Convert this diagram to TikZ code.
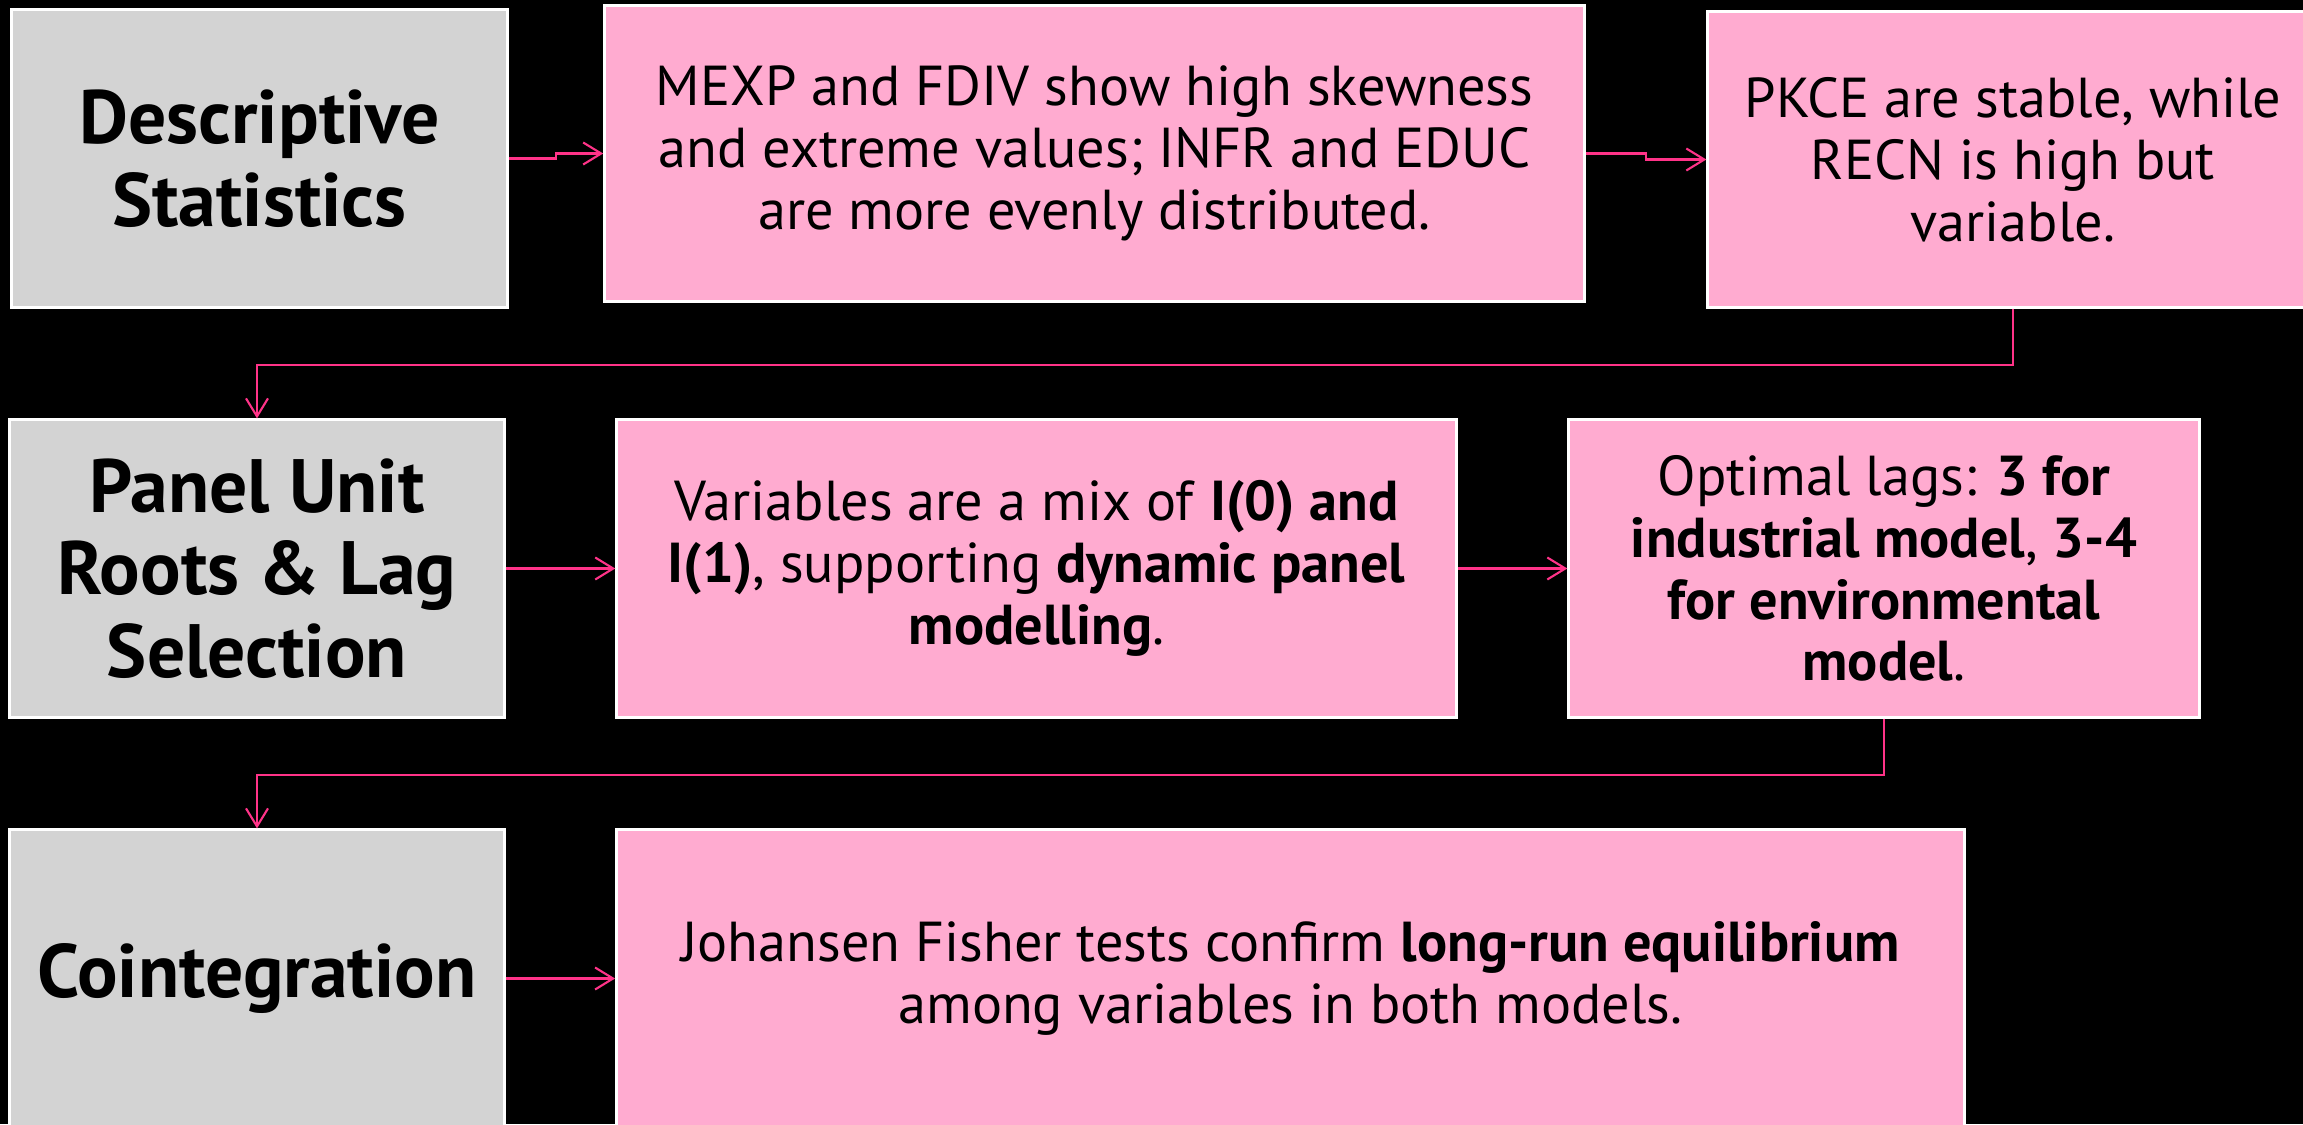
\documentclass[tikz,border=0pt]{standalone}
\usepackage{fontspec}
\setmainfont{PT Sans}
\usetikzlibrary{arrows.meta,calc}
\definecolor{headgray}{HTML}{D3D3D3}
\definecolor{notepink}{HTML}{FFABD0}
\definecolor{linkpink}{HTML}{FF3388}
\tikzset{
  headbox/.style={draw=white, line width=0.85pt, fill=headgray, align=center,
    inner sep=0pt, font=\bfseries\fontsize{21.5}{23.5}\selectfont},
  notebox/.style={draw=white, line width=0.85pt, fill=notepink, align=center,
    inner sep=0pt, font=\fontsize{16}{17.6}\selectfont},
  link/.style={draw=linkpink, line width=0.6pt,
    -{Straight Barb[length=1.8mm,width=2.2mm]}}
}
\begin{document}
\begin{tikzpicture}[x=0.01cm, y=-0.01cm]
            \fill[black] (0,0) rectangle (2303,1124);
            \useasboundingbox (0,0) rectangle (2303,1124);
            % row 1
            \node[headbox, minimum width=4.95cm, minimum height=2.97cm] (desc) at (259.5,158.5) {Descriptive\\Statistics};
            \node[notebox, minimum width=9.79cm, minimum height=2.95cm] (skew) at (1094.5,153.5) {MEXP and FDIV show high skewness\\and extreme values; INFR and EDUC\\are more evenly distributed.};
            \node[notebox, minimum width=6.10cm, minimum height=2.95cm] (pkce) at (2013,159.5) {PKCE are stable, while\\RECN is high but\\variable.};
            % row 2
            \node[headbox, minimum width=4.94cm, minimum height=2.97cm] (unit) at (257,568.5) {Panel Unit\\Roots \& Lag\\Selection};
            \node[notebox, minimum width=8.39cm, minimum height=2.97cm] (mix) at (1036.5,568.5) {Variables are a mix of \textbf{I(0) and}\\\textbf{I(1)}, supporting \textbf{dynamic panel}\\\textbf{modelling}.};
            \node[notebox, minimum width=6.30cm, minimum height=2.97cm] (lags) at (1884,568.5) {Optimal lags: \textbf{3 for}\\\textbf{industrial model}, \textbf{3-4}\\\textbf{for environmental}\\\textbf{model}.};
            % row 3
            \node[headbox, minimum width=4.94cm, minimum height=2.97cm] (coint) at (257,978.5) {Cointegration};
            \node[notebox, minimum width=13.47cm, minimum height=2.97cm] (johan) at (1290.5,978.5) {Johansen Fisher tests confirm \textbf{long-run equilibrium}\\among variables in both models.};
            % links
            \draw[link] (desc.east) -| ($(desc.east)!.5!(skew.west)$) |- (skew.west);
            \draw[link] (skew.east) -| ($(skew.east)!.5!(pkce.west)$) |- (pkce.west);
            \draw[link] (pkce.south) -- ++(0,56.5) -| (unit.north);
            \draw[link] (unit.east) -- (mix.west);
            \draw[link] (mix.east) -- (lags.west);
            \draw[link] (lags.south) -- ++(0,56.5) -| (coint.north);
            \draw[link] (coint.east) -- (johan.west);
        \end{tikzpicture}
\end{document}
